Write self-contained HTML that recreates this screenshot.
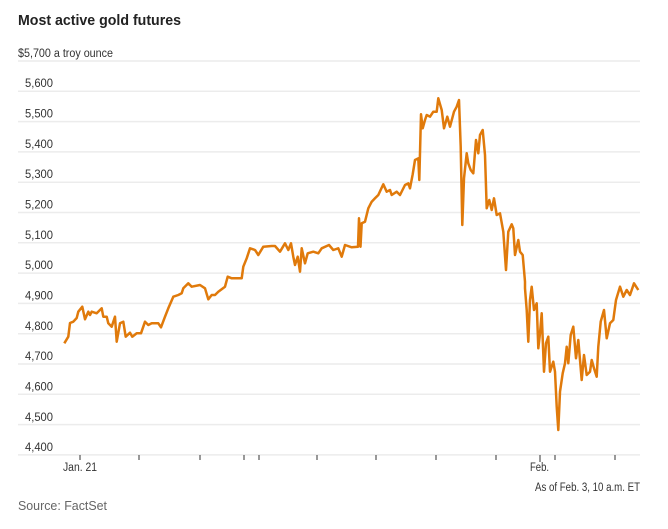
<!DOCTYPE html>
<html><head><meta charset="utf-8"><style>
html,body{margin:0;padding:0;background:#fff;}
body{width:668px;height:529px;overflow:hidden;position:relative;font-family:"Liberation Sans",sans-serif;}
</style></head><body>
<svg width="668" height="529" viewBox="0 0 668 529" xmlns="http://www.w3.org/2000/svg" style="position:absolute;left:0;top:0">
<text x="18" y="25" font-family="Liberation Sans, sans-serif" font-weight="bold" font-size="14.5" fill="#222" textLength="163" lengthAdjust="spacingAndGlyphs">Most active gold futures</text>
<g stroke="#ececec" stroke-width="1.5">
<line x1="18" x2="640" y1="61" y2="61"/>
<line x1="18" x2="640" y1="91.3" y2="91.3"/>
<line x1="18" x2="640" y1="121.6" y2="121.6"/>
<line x1="18" x2="640" y1="151.9" y2="151.9"/>
<line x1="18" x2="640" y1="182.2" y2="182.2"/>
<line x1="18" x2="640" y1="212.5" y2="212.5"/>
<line x1="18" x2="640" y1="242.8" y2="242.8"/>
<line x1="18" x2="640" y1="273.1" y2="273.1"/>
<line x1="18" x2="640" y1="303.4" y2="303.4"/>
<line x1="18" x2="640" y1="333.7" y2="333.7"/>
<line x1="18" x2="640" y1="364" y2="364"/>
<line x1="18" x2="640" y1="394.3" y2="394.3"/>
<line x1="18" x2="640" y1="424.6" y2="424.6"/>
<line x1="18" x2="640" y1="454.9" y2="454.9"/>
</g>
<g font-family="Liberation Sans, sans-serif" font-size="11.5" fill="#333">
<text x="18" y="57" textLength="95" lengthAdjust="spacingAndGlyphs">$5,700 a troy ounce</text>
<text x="25" y="87" textLength="28" lengthAdjust="spacingAndGlyphs">5,600</text>
<text x="25" y="117.5" textLength="28" lengthAdjust="spacingAndGlyphs">5,500</text>
<text x="25" y="148" textLength="28" lengthAdjust="spacingAndGlyphs">5,400</text>
<text x="25" y="178" textLength="28" lengthAdjust="spacingAndGlyphs">5,300</text>
<text x="25" y="208.5" textLength="28" lengthAdjust="spacingAndGlyphs">5,200</text>
<text x="25" y="239" textLength="28" lengthAdjust="spacingAndGlyphs">5,100</text>
<text x="25" y="269" textLength="28" lengthAdjust="spacingAndGlyphs">5,000</text>
<text x="25" y="299.5" textLength="28" lengthAdjust="spacingAndGlyphs">4,900</text>
<text x="25" y="330" textLength="28" lengthAdjust="spacingAndGlyphs">4,800</text>
<text x="25" y="360" textLength="28" lengthAdjust="spacingAndGlyphs">4,700</text>
<text x="25" y="390.5" textLength="28" lengthAdjust="spacingAndGlyphs">4,600</text>
<text x="25" y="421" textLength="28" lengthAdjust="spacingAndGlyphs">4,500</text>
<text x="25" y="451" textLength="28" lengthAdjust="spacingAndGlyphs">4,400</text>
<text x="63" y="471" textLength="34" lengthAdjust="spacingAndGlyphs">Jan. 21</text>
<text x="530" y="471" textLength="19" lengthAdjust="spacingAndGlyphs">Feb.</text>
<text x="535" y="491" textLength="105" lengthAdjust="spacingAndGlyphs">As of Feb. 3, 10 a.m. ET</text>
<text x="18" y="510" font-size="12.5" fill="#666" textLength="89" lengthAdjust="spacingAndGlyphs">Source: FactSet</text>
</g>
<g stroke="#333" stroke-width="1">
<line x1="80" x2="80" y1="455" y2="460"/>
<line x1="139" x2="139" y1="455" y2="460"/>
<line x1="200" x2="200" y1="455" y2="460"/>
<line x1="244" x2="244" y1="455" y2="460"/>
<line x1="259" x2="259" y1="455" y2="460"/>
<line x1="317" x2="317" y1="455" y2="460"/>
<line x1="376" x2="376" y1="455" y2="460"/>
<line x1="436" x2="436" y1="455" y2="460"/>
<line x1="496" x2="496" y1="455" y2="460"/>
<line x1="540" x2="540" y1="455" y2="462"/>
<line x1="555" x2="555" y1="455" y2="460"/>
<line x1="615" x2="615" y1="455" y2="460"/>
</g>
<polyline fill="none" stroke="#e07a0b" stroke-width="2.5" stroke-linejoin="round" points="
64.3,343.3 68.3,336.7 70,323 73.3,321.7 76.7,318 78.3,311.7 82.3,306.7 85,319.3 88.3,311.7 90,315 91.7,311.7 96.7,313.3 101.7,308.3 103.3,316.7 106.7,316.7 108.3,323.3 111.7,326.7 115,316.7 116.7,341.7 120,323.3 123.3,321.7 125.7,336.7 130,332.7 132.3,336.7 136.7,333.3 141,333.3 145,321.7 148.3,325 151.7,323.3 158.3,323.3 161,327.3 165,316.7 168.3,308.3 173.3,296.7 178.3,295 181.7,293.3 183.3,288.3 188.3,283.3 191.7,286.7 200,285 205,288.3 208.3,299.3 211.7,295 215,295 218.3,291.7 225,286.7 227.7,276.7 231.7,278.3 236.7,278.3 241.7,278.3 243.3,266.7 246.7,258.3 250,248.3 255,250 258.3,255 263.3,246.7 271.7,246 275,246 280,251.7 285,243.3 288.3,250 291,243.3 293.3,256.7 295,265 297.7,256.7 300,271.7 301.7,248.3 305,263.3 307.7,253.3 313.3,251.7 318.3,253.3 321.7,248.3 329,245 333.3,250 338.3,248.3 341.7,256.7 345,245 351.7,247.3 358,246.7 359,218.3 360.5,246.7 361.7,223.3 365,221.7 368.3,208.3 371.7,201.7 375,198.3 378.3,195 383.3,184.3 386.7,191.7 390,190 391.7,195 396.7,191.7 400,195 405,185 408.3,183.3 410,188.3 412.7,174.3 415,160 418.3,158.3 419.3,180 421,114.3 422.7,128.3 425,120 426.7,115 430,116.7 433.3,111.7 436.7,111.7 438.3,98.3 441.7,110 444,128.3 447.3,116.7 450,126.7 454,111.7 456.7,106.7 459,100 460.7,146.7 462.3,225 464,178.3 466.7,153.3 468.3,163.3 470.7,170 473.3,173.3 476,140 478.3,153.3 480,135 482.7,130 485,155 486.7,208.3 489.3,200 491.7,210 494,198.3 496.7,215 500,213.3 503.3,231.7 506,270 508.3,231.7 511.7,224.3 513.3,228.3 515,255 518.3,240 520,251.7 522.7,255 525,281.7 525,288.3 526.7,310 528.3,341.7 530,300 531.7,286.7 534,310 536.7,303.3 538.3,348.3 540,333.3 541.7,313.3 544,371.7 546,343.3 548.3,336.7 550,371.7 553.3,361.7 555,371.7 556.7,406.7 558.3,430 560,391.7 562.7,373.3 565,363.3 566.7,346.7 568.3,363.3 570.7,335 573.3,326.7 576,358.3 578.3,340 581.7,380 584,355 586.7,375 590,371.7 591.7,360 594,368.3 596.7,376.7 598.3,346.7 600.7,321.7 604,310 606.7,338.3 610,323.3 613.3,320 616,300 620,286.7 623.3,296.7 626.7,290 630,295 634,283.3 638.3,290"/>
</svg>
</body></html>
